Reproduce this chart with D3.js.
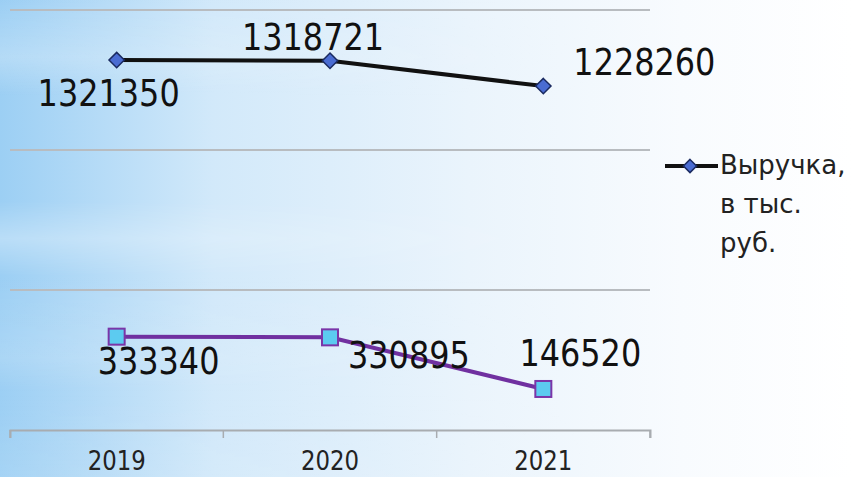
<!DOCTYPE html>
<html><head><meta charset="utf-8">
<script src="https://cdn.jsdelivr.net/npm/d3@7"></script>
<style>html,body{margin:0;padding:0;background:#fff;overflow:hidden}</style>
</head><body>
<svg id="c" width="852" height="477"></svg>
<script>
const categories = ["2019", "2020", "2021"];
const revenue = [1321350, 1318721, 1228260];
const secondSeries = [333340, 330895, 146520];
const yTicks = [0, 500000, 1000000, 1500000];
const legendLines = ["Выручка,", "в тыс.", "руб."];

(function(){
const svg = d3.select("#c");
const W = 852, H = 477;
const defs = svg.append("defs");
const g1 = defs.append("linearGradient").attr("id","bg").attr("x1","0").attr("x2","1").attr("y1","0").attr("y2","0");
g1.append("stop").attr("offset","0").attr("stop-color","#9ccff4");
g1.append("stop").attr("offset","0.25").attr("stop-color","#d2e9fa");
g1.append("stop").attr("offset","0.55").attr("stop-color","#eaf4fc");
g1.append("stop").attr("offset","0.8").attr("stop-color","#f8fbfe");
g1.append("stop").attr("offset","1").attr("stop-color","#ffffff");
const g2 = defs.append("linearGradient").attr("id","streak").attr("x1","0").attr("x2","0").attr("y1","0").attr("y2","1");
[[0,0],[0.12,0.25],[0.2,0],[0.42,0],[0.5,0.3],[0.58,0],[0.75,0.15],[0.82,0],[1,0.1]].forEach(([o,a])=>{
  g2.append("stop").attr("offset",o).attr("stop-color","#ffffff").attr("stop-opacity",a);
});
const g3 = defs.append("linearGradient").attr("id","fadeR").attr("x1","0").attr("x2","1");
g3.append("stop").attr("offset","0").attr("stop-color","#fff").attr("stop-opacity",1);
g3.append("stop").attr("offset","0.7").attr("stop-color","#fff").attr("stop-opacity",0);
const mask = defs.append("mask").attr("id","m");
mask.append("rect").attr("width",W).attr("height",H).attr("fill","url(#fadeR)");
svg.append("rect").attr("width",W).attr("height",H).attr("fill","url(#bg)");
svg.append("rect").attr("width",W).attr("height",H).attr("fill","url(#streak)").attr("mask","url(#m)");

const pLeft = 10, pRight = 650, pTop = 10, pBottom = 430;
const x = d3.scaleBand().domain(categories).range([pLeft, pRight]).padding(0);
const y = d3.scaleLinear().domain([0, 1500000]).range([pBottom, pTop]);
const cx = d => x(d) + x.bandwidth()/2;

// gridlines
svg.append("g").selectAll("line").data(yTicks.filter(t=>t>0)).join("line")
  .attr("x1", pLeft).attr("x2", pRight)
  .attr("y1", d=>y(d)).attr("y2", d=>y(d))
  .attr("stroke", "#b8bcc0").attr("stroke-width", 2);

// x axis
const xAxis = d3.axisBottom(x).tickSize(8).tickSizeOuter(8).tickFormat("");
const ax = svg.append("g").attr("transform", `translate(0,${pBottom})`).call(xAxis);
ax.select(".domain").attr("stroke","#a8acb0").attr("stroke-width",2);
ax.selectAll(".tick").remove();
const bounds = [pLeft].concat(categories.map(c => x(c) + x.bandwidth()));
svg.append("g").selectAll("line").data(bounds).join("line")
  .attr("x1", d=>d).attr("x2", d=>d).attr("y1", pBottom).attr("y2", pBottom+8)
  .attr("stroke","#a8acb0").attr("stroke-width",1.5);

svg.append("g").selectAll("text").data(categories).join("text")
  .attr("x", d=>cx(d)).attr("y", 470).attr("text-anchor","middle")
  .attr("font-family","DejaVu Sans").attr("font-size",26)
  .attr("textLength", d=>d.length*14.5).attr("lengthAdjust","spacingAndGlyphs")
  .attr("fill","#222").text(d=>d);

const line = d3.line().x((d,i)=>cx(categories[i])).y(d=>y(d));

svg.append("path").datum(secondSeries).attr("d", line)
  .attr("fill","none").attr("stroke","#7030a0").attr("stroke-width",4);
svg.append("g").selectAll("rect").data(secondSeries).join("rect")
  .attr("x",(d,i)=>cx(categories[i])-8).attr("y",d=>y(d)-8)
  .attr("width",16).attr("height",16)
  .attr("fill","#5ccbf0").attr("stroke","#7a35a8").attr("stroke-width",2);

svg.append("path").datum(revenue).attr("d", line)
  .attr("fill","none").attr("stroke","#111").attr("stroke-width",4);
svg.append("g").selectAll("path").data(revenue).join("path")
  .attr("d", d3.symbol().type(d3.symbolDiamond2).size(150))
  .attr("transform",(d,i)=>`translate(${cx(categories[i])},${y(d)})`)
  .attr("fill","#4a6cd2").attr("stroke","#1a2a60").attr("stroke-width",1.5);

const labFont = "DejaVu Sans";
const lab1 = [[-8, 46, "middle"], [-17, -11, "middle"], [30, -11, "start"]];
const lab2 = [[-19, 37, "start"], [18, 31, "start"], [37, -23, "middle"]];
function labels(data, offs){
  svg.append("g").selectAll("text").data(data).join("text")
    .attr("x",(d,i)=>cx(categories[i]) + offs[i][0])
    .attr("y",(d,i)=>y(d) + offs[i][1])
    .attr("text-anchor",(d,i)=>offs[i][2])
    .attr("font-family",labFont).attr("font-size",38).attr("fill","#111")
    .attr("textLength", d=>String(d).length*20.3).attr("lengthAdjust","spacingAndGlyphs")
    .text(d=>d);
}
labels(revenue, lab1);
labels(secondSeries, lab2);

const lg = svg.append("g");
lg.append("line").attr("x1",665).attr("x2",718).attr("y1",166).attr("y2",166)
  .attr("stroke","#111").attr("stroke-width",4);
lg.append("path").attr("d", d3.symbol().type(d3.symbolDiamond2).size(110))
  .attr("transform","translate(690,166)")
  .attr("fill","#4a6cd2").attr("stroke","#1a2a60").attr("stroke-width",1.5);
lg.selectAll("text").data(legendLines).join("text")
  .attr("x",720).attr("y",(d,i)=>174 + i*39)
  .attr("font-family","DejaVu Sans").attr("font-size",26).attr("fill","#222")
  .text(d=>d);
})();
</script>
</body></html>
